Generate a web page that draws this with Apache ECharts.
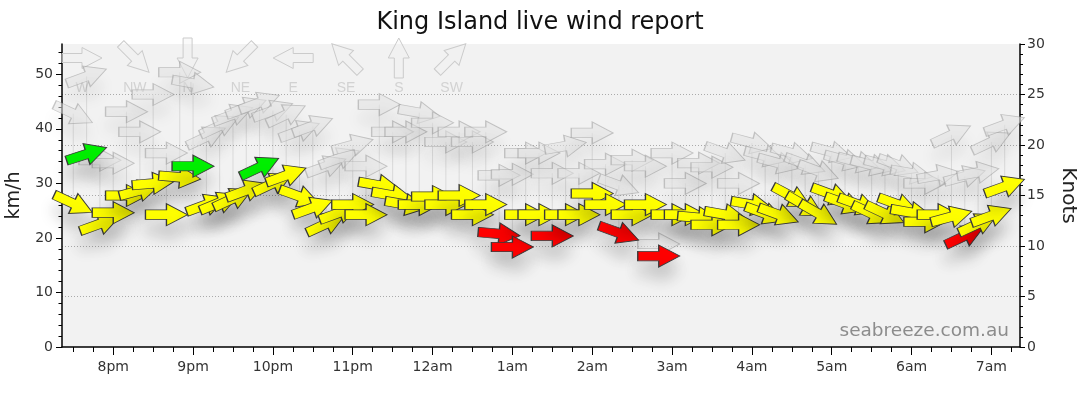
<!DOCTYPE html>
<html><head><meta charset="utf-8">
<script src="https://cdn.jsdelivr.net/npm/echarts@6/dist/echarts.min.js"></script>
<style>html,body{margin:0;padding:0;background:#fff}#c{width:1080px;height:414px}</style>
</head><body><div id="c"></div>
<script>
// ---- data (10-minute observations, knots; direction = where wind comes FROM, degrees) ----
const obsTimes = ['19:30','19:40','19:50','20:00','20:10','20:20','20:30','20:40','20:50','21:00',
  '21:10','21:20','21:30','21:40','21:50','22:00','22:10','22:20','22:30','22:40',
  '22:50','23:00','23:10','23:20','23:30','23:40','23:50','00:00','00:10','00:20',
  '00:30','00:40','00:50','01:00','01:10','01:20','01:30','01:40','01:50','02:00',
  '02:10','02:20','02:30','02:40','02:50','03:00','03:10','03:20','03:30','03:40',
  '03:50','04:00','04:10','04:20','04:30','04:40','04:50','05:00','05:10','05:20',
  '05:30','05:40','05:50','06:00','06:10','06:20','06:30','06:40','06:50','07:00','07:10'];
const windKnots = [14.2,19.1,12.2,13.3,15.0,15.5,16.2,13.1,16.8,17.9,
  14.1,14.3,14.7,15.5,17.8,16.2,17.0,14.9,13.8,12.2,
  13.3,14.1,13.1,16.0,15.0,14.1,14.1,14.9,14.1,15.0,
  13.1,14.1,11.2,9.9,13.1,13.1,11.0,13.1,13.1,15.2,
  14.1,11.3,13.1,14.1,9.0,13.1,13.1,12.8,12.1,13.1,
  12.1,14.1,13.2,13.1,14.9,14.0,13.2,15.1,14.2,14.1,
  13.2,13.2,14.1,13.3,12.4,13.1,12.9,11.0,12.2,13.0,15.9];
const windDir = [295,252,250,270,270,255,265,270,275,270,
  250,248,245,250,245,245,250,290,250,245,
  250,270,270,280,280,280,270,270,270,270,
  270,270,275,270,270,270,270,270,270,270,
  270,290,270,270,270,270,270,275,270,280,
  270,280,290,290,298,300,300,290,290,290,
  295,295,290,280,270,270,255,245,245,250,250];
const gustKnots = [23.1,26.8,18.5,18.2,23.3,21.3,25.0,19.2,27.2,26.1,
  20.8,21.9,23.0,23.7,24.2,23.4,23.0,21.4,21.9,17.9,
  18.7,20.0,17.9,24.0,21.3,21.3,23.2,22.2,20.3,21.3,
  20.3,21.3,17.0,17.1,19.2,19.2,17.2,19.9,17.2,21.2,
  18.1,16.0,18.5,17.9,10.2,19.2,16.2,18.2,17.8,19.2,
  16.2,20.2,18.9,18.2,19.2,18.1,17.4,19.3,18.5,18.3,
  18.0,18.0,18.0,17.2,16.2,17.0,21.0,16.9,17.3,20.3,22.0];
const gustDir = [295,250,270,270,270,270,270,270,270,280,
  245,245,250,250,250,250,245,250,250,250,
  250,255,270,270,270,270,280,270,270,270,
  270,270,270,270,270,270,270,260,270,270,
  270,290,270,270,270,270,270,270,270,290,
  270,285,285,285,285,290,290,285,285,285,
  285,285,290,280,270,260,245,255,260,245,250];
const hourLabels = ['8pm','9pm','10pm','11pm','12am','1am','2am','3am','4am','5am','6am','7am'];
const kmhLabels = [0,10,20,30,40,50];
const compassNames = ['W','NW','N','NE','E','SE','S','SW'];
const compassDeg = [270,315,0,45,90,135,180,225];

// ---- helpers ----
const FONT = 'DejaVu Sans';
function toMin(s){ let [h,m]=s.split(':').map(Number); if(h<12) h+=24; return (h-19)*60+m; }
const rot = d => -90 - d; // screen rotation (ccw) of an arrow pointing where the wind goes
const ARROW = 'path://M0,6L20,6L20,0L40,10.5L20,21L20,15L0,15Z';
const X_MIN = 21.5, X_MAX = 741.5; // minutes after 19:00
const hourVals = hourLabels.map((_, i) => 60 + i*60);
const quarterVals = []; for (let v = 30; v < X_MAX; v += 15) if (v % 60) quarterVals.push(v);
const kmhMinor = []; for (let v = 2; v < 55.5; v += 2) if (v % 10) kmhMinor.push(v);

const windData = obsTimes.map((t,i)=>({value:[toMin(t), windKnots[i], windDir[i]], symbolRotate: rot(windDir[i])}));
const gustData = obsTimes.map((t,i)=>({value:[toMin(t), gustKnots[i], gustDir[i]], symbolRotate: rot(gustDir[i])}));
const linkData = obsTimes.map((t,i)=>[toMin(t), windKnots[i], gustKnots[i]]);

// compass legend (decoration)
const compassGraphics = [];
compassNames.forEach((n,i)=>{
  const cx = 82 + i*52.8;
  compassGraphics.push({type:'polygon', x:cx, y:58, rotation: rot(compassDeg[i])*Math.PI/180, z:1, silent:true,
    shape:{points:[[-20,-4.5],[0,-4.5],[0,-10.5],[20,0],[0,10.5],[0,4.5],[-20,4.5]]},
    style:{fill:'rgba(240,240,240,0.3)', stroke:'#cbcbcb', lineWidth:1}});
  compassGraphics.push({type:'text', x:cx, y:88, z:1, silent:true,
    style:{text:n, fill:'#d2d2d2', font:'14px "Liberation Sans"', align:'center', verticalAlign:'middle'}});
});
compassGraphics.push({type:'text', x:1009, y:331, z:5, silent:true,
  style:{text:'seabreeze.com.au', fill:'#8c8c8c', font:'18.5px "' + FONT + '"', align:'right', verticalAlign:'middle'}});

const axisText = {color:'#333', fontSize:14, fontFamily:FONT};
const chart = echarts.init(document.getElementById('c'), null, {renderer:'canvas'});
chart.setOption({
  animation:false,
  title:{text:'King Island live wind report', left:'center', top:6,
    textStyle:{fontFamily:FONT, fontSize:24, fontWeight:'normal', color:'#111'}},
  grid:{left:62, right:60, top:44, bottom:67, show:true, backgroundColor:'#f2f2f2', borderWidth:0,
    containLabel:false, outerBoundsMode:'none'},
  xAxis:[
    {type:'value', min:X_MIN, max:X_MAX, position:'bottom',
     axisLine:{lineStyle:{color:'#000', width:1.5}},
     axisTick:{customValues:hourVals, length:8, lineStyle:{color:'#000'}},
     axisLabel:{customValues:hourVals, margin:13, ...axisText,
       formatter:v => hourLabels[Math.round((v-60)/60)] || ''},
     splitLine:{show:false}},
    {type:'value', min:X_MIN, max:X_MAX, position:'bottom',
     axisLine:{show:false}, axisLabel:{show:false}, splitLine:{show:false},
     axisTick:{customValues:quarterVals, length:5, lineStyle:{color:'#000'}}}
  ],
  yAxis:[
    {type:'value', min:0, max:30*1.852, position:'left', name:'km/h', nameLocation:'middle', nameGap:38, nameRotate:90,
     nameTextStyle:{fontFamily:FONT, fontSize:19, color:'#222'},
     axisLine:{show:true, lineStyle:{color:'#000', width:1.5}},
     axisTick:{customValues:kmhLabels, length:6, lineStyle:{color:'#000'}},
     axisLabel:{customValues:kmhLabels, margin:9, ...axisText},
     splitLine:{show:false}},
    {type:'value', min:0, max:30, interval:5, position:'right', name:'Knots', nameLocation:'middle', nameGap:38, nameRotate:-90,
     nameTextStyle:{fontFamily:FONT, fontSize:20, color:'#222'},
     axisLine:{show:true, lineStyle:{color:'#000', width:1.5}},
     axisTick:{show:true, length:5, lineStyle:{color:'#000'}},
     minorTick:{show:true, splitNumber:5, length:3, lineStyle:{color:'#000'}},
     axisLabel:{margin:7, ...axisText},
     splitLine:{show:true, showMinLine:false, showMaxLine:false, lineStyle:{color:'#aaa', type:[1,2], width:1}}},
    {type:'value', min:0, max:30*1.852, position:'left',
     axisLine:{show:false}, axisLabel:{show:false}, splitLine:{show:false},
     axisTick:{customValues:kmhMinor, length:3.5, lineStyle:{color:'#000'}}}
  ],
  visualMap:{type:'piecewise', show:false, seriesIndex:2, dimension:1,
    pieces:[{lt:11.75, color:'#ff0000'},{gte:11.75, lt:17.5, color:'#ffff00'},{gte:17.5, color:'#00f000'}]},
  graphic:compassGraphics,
  series:[
    {type:'scatter', name:'Gust', xAxisIndex:0, yAxisIndex:1, data:gustData, symbol:ARROW, symbolSize:[42,22],
     clip:false, silent:true, z:2,
     itemStyle:{color:'rgba(226,226,226,0.55)', borderColor:'rgba(150,150,150,0.5)', borderWidth:1, opacity:1,
       shadowBlur:16, shadowOffsetY:14, shadowColor:'rgba(0,0,0,0.13)'}},
    {type:'custom', name:'Link', xAxisIndex:0, yAxisIndex:1, data:linkData, silent:true, z:2,
     encode:{x:0, y:[1,2]},
     renderItem:(params, api)=>{
       const a = api.coord([api.value(0), api.value(1)]);
       const b = api.coord([api.value(0), api.value(2)]);
       return {type:'line', shape:{x1:a[0], y1:a[1], x2:b[0], y2:b[1]},
         style:{stroke:'rgba(130,130,130,0.22)', lineWidth:1}};
     }},
    {type:'scatter', name:'Wind', xAxisIndex:0, yAxisIndex:1, data:windData, symbol:ARROW, symbolSize:[42,22],
     clip:false, silent:true, z:3,
     itemStyle:{borderColor:'#3a3a3a', borderWidth:1, opacity:1,
       shadowBlur:16, shadowOffsetY:14, shadowColor:'rgba(0,0,0,0.2)'}}
  ]
});
</script></body></html>
